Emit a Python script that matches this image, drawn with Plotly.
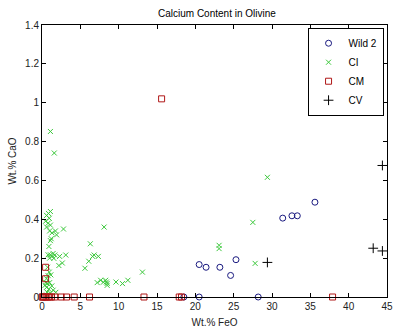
import plotly.graph_objects as go

# Wild 2 (circles)
wild2_x = [20.5, 21.4, 23.2, 24.6, 25.3, 31.4, 32.6, 33.3, 35.6, 28.2, 20.5, 18.5]
wild2_y = [0.167, 0.153, 0.153, 0.111, 0.192, 0.406, 0.418, 0.418, 0.488, 0.0, 0.0, 0.0]

# CI (x marks)
ci_x = [1.1, 1.6, 1.1, 0.85, 0.6, 0.95, 0.47, 0.8, 1.1, 0.6, 1.0, 1.75, 1.3, 1.9, 2.8,
        1.1, 1.2, 0.9, 0.8, 1.1, 1.45, 1.67, 1.3, 1.54, 1.0, 2.3, 3.1, 2.65, 2.2, 0.73,
        0.6, 0.5, 0.7, 1.0, 1.28, 0.6, 0.9, 1.45, 0.65, 1.1, 1.8, 0.6, 0.4, 0.95, 1.15, 0.8,
        6.3, 6.1, 6.8, 6.6, 7.35, 5.6, 8.1, 7.2, 7.65, 8.0, 8.3, 8.5, 8.5, 8.4, 9.65, 10.5,
        11.2, 13.1, 29.4, 27.5, 23.1, 23.1, 27.8]
ci_y = [0.852, 0.741, 0.44, 0.43, 0.42, 0.405, 0.39, 0.38, 0.37, 0.36, 0.34, 0.34, 0.33, 0.32, 0.35,
        0.29, 0.30, 0.26, 0.217, 0.217, 0.224, 0.216, 0.209, 0.199, 0.2, 0.209, 0.216, 0.175, 0.162, 0.153,
        0.094, 0.074, 0.07, 0.074, 0.057, 0.05, 0.04, 0.035, 0.025, 0.02, 0.024, 0.01, 0.06, 0.128, 0.114, 0.11,
        0.274, 0.184, 0.216, 0.209, 0.209, 0.148, 0.36, 0.074, 0.086, 0.076, 0.086, 0.07, 0.06, 0.077, 0.077, 0.069,
        0.086, 0.128, 0.616, 0.384, 0.266, 0.249, 0.173]

# CM (squares)
cm_x = [15.6, 0.47, 0.47, 0.0, 0.1, 0.2, 0.38, 0.55, 0.8, 1.0, 1.24, 1.67, 2.5, 3.2, 4.2, 6.2, 13.3, 17.9, 18.2, 37.9]
cm_y = [1.02, 0.153, 0.094, 0.0, 0.0, 0.0, 0.0, 0.0, 0.0, 0.0, 0.0, 0.0, 0.0, 0.0, 0.0, 0.0, 0.0, 0.0, 0.0, 0.0]

# CV (plus)
cv_x = [29.4, 43.2, 44.4, 44.4]
cv_y = [0.178, 0.251, 0.237, 0.677]

fig = go.Figure()
fig.add_trace(go.Scatter(x=wild2_x, y=wild2_y, mode="markers", name="Wild 2",
                         marker=dict(symbol="circle-open", size=6, color="#1a1a80", line=dict(width=1)),
                         cliponaxis=False))
fig.add_trace(go.Scatter(x=ci_x, y=ci_y, mode="markers", name="CI",
                         marker=dict(symbol="x-thin-open", size=5, color="#3cc83c", line=dict(width=1)),
                         cliponaxis=False))
fig.add_trace(go.Scatter(x=cm_x, y=cm_y, mode="markers", name="CM",
                         marker=dict(symbol="square-open", size=6, color="#b01818", line=dict(width=1)),
                         cliponaxis=False))
fig.add_trace(go.Scatter(x=cv_x, y=cv_y, mode="markers", name="CV",
                         marker=dict(symbol="cross-thin-open", size=7, color="#000000", line=dict(width=1)),
                         cliponaxis=False))

axis_common = dict(showline=True, linecolor="#000", linewidth=1, mirror="ticks",
                   ticks="inside", ticklen=4, tickcolor="#000", showgrid=False, zeroline=False,
                   tickfont=dict(family="Liberation Sans, Arial", size=10, color="#222"))

fig.update_layout(
    width=398, height=331,
    margin=dict(l=42, r=5, t=25, b=29),
    paper_bgcolor="white", plot_bgcolor="white",
    title=dict(text="Calcium Content in Olivine", x=0.545, xanchor="center", y=0.96, yanchor="middle",
               font=dict(family="Liberation Sans, Arial", size=10, color="#000")),
    xaxis=dict(range=[0, 45], tickvals=[0, 5, 10, 15, 20, 25, 30, 35, 40, 45],
               title=dict(text="Wt.% FeO", standoff=7, font=dict(family="Liberation Sans, Arial", size=10, color="#222")),
               **axis_common),
    yaxis=dict(range=[0, 1.4], tickvals=[0, 0.2, 0.4, 0.6, 0.8, 1.0, 1.2, 1.4],
               ticktext=["0", "0.2", "0.4", "0.6", "0.8", "1", "1.2", "1.4"],
               title=dict(text="Wt.% CaO", standoff=6, font=dict(family="Liberation Sans, Arial", size=10, color="#222")),
               **axis_common),
    legend=dict(x=0.99, y=0.99, xanchor="right", yanchor="top", bgcolor="white",
                bordercolor="#000", borderwidth=1, tracegroupgap=0, itemwidth=30,
                itemsizing="trace",
                font=dict(family="Liberation Sans, Arial", size=10, color="#000")),
    showlegend=True,
)

fig.write_html("out.html")
